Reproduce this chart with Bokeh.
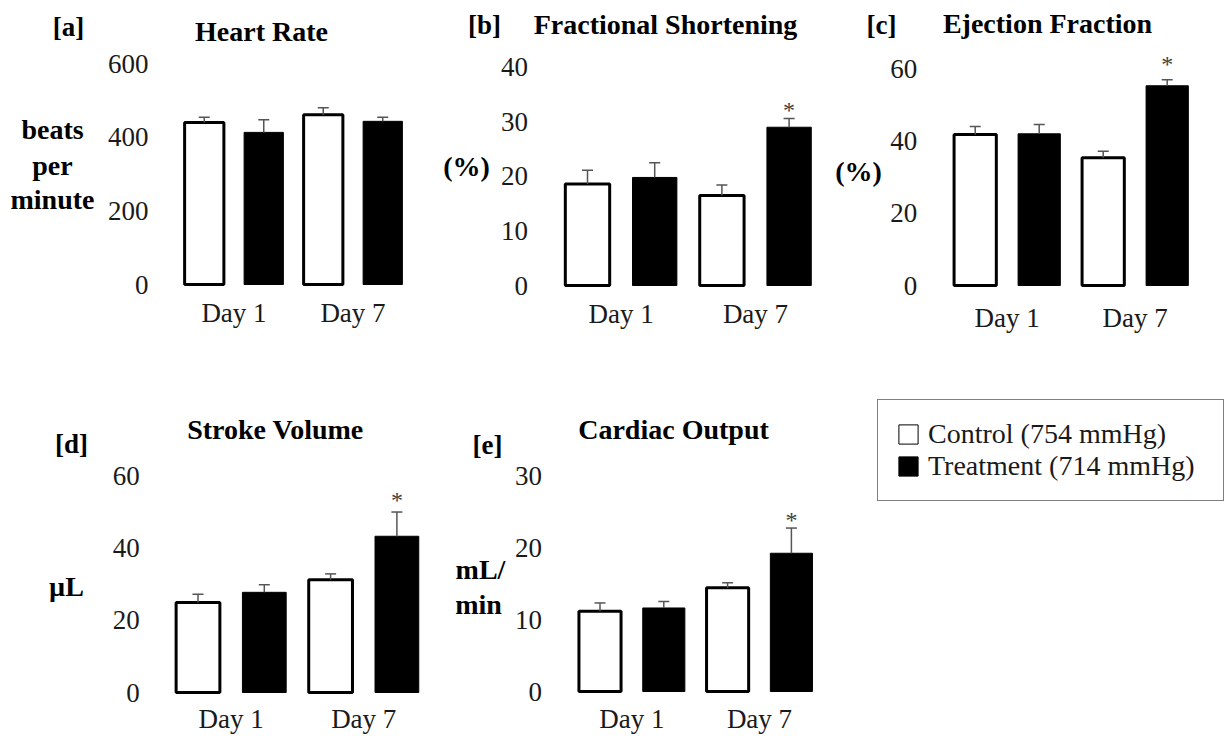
from bokeh.plotting import figure
from bokeh.layouts import column, row
from bokeh.models import (Range1d, FixedTicker, Whisker, TeeHead, ColumnDataSource,
                          Label, Legend, LegendItem)
from bokeh.core.properties import value
from bokeh.embed import file_html
from bokeh.resources import INLINE

# ---------------- data ----------------
days = ["Day 1", "Day 7"]
groups = ["Control (754 mmHg)", "Treatment (714 mmHg)"]

hr_control = [440, 461]
hr_control_err = [14, 19]
hr_treat = [413, 443]
hr_treat_err = [34, 11]
hr_sig = [False, False]

fs_control = [18.6, 16.5]
fs_control_err = [2.5, 1.9]
fs_treat = [19.8, 29.0]
fs_treat_err = [2.7, 1.6]
fs_sig = [False, True]

ef_control = [41.8, 35.4]
ef_control_err = [2.2, 1.8]
ef_treat = [42.0, 55.3]
ef_treat_err = [2.6, 1.7]
ef_sig = [False, True]

sv_control = [24.9, 31.2]
sv_control_err = [2.3, 1.6]
sv_treat = [27.7, 43.2]
sv_treat_err = [2.1, 6.7]
sv_sig = [False, True]

co_control = [11.15, 14.4]
co_control_err = [1.15, 0.7]
co_treat = [11.6, 19.2]
co_treat_err = [0.9, 3.5]
co_sig = [False, True]

hr_ticks = [0, 200, 400, 600]
fs_ticks = [0, 10, 20, 30, 40]
ef_ticks = [0, 20, 40, 60]
sv_ticks = [0, 20, 40, 60]
co_ticks = [0, 10, 20, 30]

FONT = "Liberation Serif"
TOP_H = 345
BOT_H = 391
LABEL_SHIFT = 9  # rendering correction for label baselines


def make_panel(g, ticks, ctrl, ctrl_err, trt, trt_err, sig, texts, star_gap,
               label_right, day_standoff):
    scale = (g["base"] - g["top_tick_px"]) / ticks[-1]
    dx = g["dx"]
    x_start = 1 - (g["c1"] - g["fig_x"]) / dx
    x_end = x_start + g["fig_w"] / dx
    y_start = -(g["fig_y"] + g["fig_h"] - g["base"]) / scale
    y_end = (g["base"] - g["fig_y"]) / scale
    p = figure(width=g["fig_w"], height=g["fig_h"],
               x_range=Range1d(x_start, x_end), y_range=Range1d(y_start, y_end),
               output_backend="svg", toolbar_location=None, min_border=0)
    p.outline_line_color = None
    p.grid.visible = False
    p.background_fill_color = "white"
    p.border_fill_color = "white"

    xc = [1 + 2 * i for i in range(len(days))]
    xt = [2 + 2 * i for i in range(len(days))]
    p.vbar(x=xc, top=ctrl, bottom=0, width=0.66, fill_color="white",
           line_color="black", line_width=3)
    p.vbar(x=xt, top=trt, bottom=0, width=0.66, fill_color="black",
           line_color="black", line_width=1)

    xs = xc + xt
    lows = list(ctrl) + list(trt)
    ups = [v + e for v, e in zip(ctrl, ctrl_err)] + [v + e for v, e in zip(trt, trt_err)]
    src = ColumnDataSource(dict(x=xs, lower=lows, upper=ups))
    w = Whisker(base="x", lower="lower", upper="upper", source=src,
                line_color="#555555", line_width=1.5,
                upper_head=TeeHead(size=11, line_color="#555555", line_width=1.5),
                lower_head=None, level="overlay")
    p.add_layout(w)

    sx = [x for x, s in zip(xt, sig) if s]
    sy = [v + e for v, e, s in zip(trt, trt_err, sig) if s]
    if sx:
        p.text(x=sx, y=sy, text=["*"] * len(sx), text_font=value(FONT),
               text_font_size="24px", text_color="#404040", text_align="center",
               text_baseline="middle", y_offset=-(star_gap - 3))

    # y axis drawn at the left edge of the bar area
    p.yaxis.fixed_location = 0.5
    p.yaxis.ticker = FixedTicker(ticks=ticks)
    p.yaxis.axis_line_color = None
    p.yaxis.major_tick_line_color = None
    p.yaxis.minor_tick_line_color = None
    p.yaxis.major_tick_out = 0
    p.yaxis.major_tick_in = 0
    p.yaxis.major_label_standoff = int(round(g["c1"] - dx / 2 - label_right))
    p.yaxis.major_label_text_font = FONT
    p.yaxis.major_label_text_font_size = "27px"
    p.yaxis.major_label_text_color = "#1a1a1a"

    # x axis drawn at the baseline
    p.xaxis.fixed_location = 0
    p.xaxis.ticker = FixedTicker(ticks=[1.5 + 2 * i for i in range(len(days))])
    p.xaxis.major_label_overrides = {1.5 + 2 * i: d for i, d in enumerate(days)}
    p.xaxis.axis_line_color = None
    p.xaxis.major_tick_line_color = None
    p.xaxis.minor_tick_line_color = None
    p.xaxis.major_tick_out = 0
    p.xaxis.major_tick_in = 0
    p.xaxis.major_label_standoff = day_standoff
    p.xaxis.major_label_text_font = FONT
    p.xaxis.major_label_text_font_size = "27px"
    p.xaxis.major_label_text_color = "#1a1a1a"

    for (txt, px, py, size) in texts:
        p.add_layout(Label(x=1 + (px - g["c1"]) / dx,
                           y=(g["base"] - (py - LABEL_SHIFT)) / scale,
                           text=txt, text_font=FONT, text_font_size=size,
                           text_font_style="bold", text_align="center",
                           text_baseline="alphabetic", text_color="black"))
    return p


pa = make_panel(dict(fig_x=0, fig_y=0, fig_w=420, fig_h=TOP_H, c1=203.75, dx=59.5,
                     base=284, top_tick_px=63),
                hr_ticks, hr_control, hr_control_err, hr_treat, hr_treat_err, hr_sig,
                [("[a]", 68, 35, "27px"), ("Heart Rate", 261, 40, "28px"),
                 ("beats", 52, 138, "28px"), ("per", 52, 174, "28px"),
                 ("minute", 52, 208, "28px")],
                12, 148, 13)

pb = make_panel(dict(fig_x=420, fig_y=0, fig_w=410, fig_h=TOP_H, c1=587, dx=67.2,
                     base=285, top_tick_px=66.7),
                fs_ticks, fs_control, fs_control_err, fs_treat, fs_treat_err, fs_sig,
                [("[b]", 484, 33, "27px"), ("Fractional Shortening", 665, 33, "28px"),
                 ("(%)", 466, 175, "28px")],
                12, 527, 13)

pc = make_panel(dict(fig_x=830, fig_y=0, fig_w=395, fig_h=TOP_H, c1=974.7, dx=64,
                     base=285, top_tick_px=68.3),
                ef_ticks, ef_control, ef_control_err, ef_treat, ef_treat_err, ef_sig,
                [("[c]", 881, 33, "27px"), ("Ejection Fraction", 1047, 32, "28px"),
                 ("(%)", 858, 180, "28px")],
                19, 917, 17)

pd_ = make_panel(dict(fig_x=0, fig_y=TOP_H, fig_w=440, fig_h=BOT_H, c1=197.5, dx=66.3,
                      base=692, top_tick_px=475),
                 sv_ticks, sv_control, sv_control_err, sv_treat, sv_treat_err, sv_sig,
                 [("[d]", 71, 452, "27px"), ("Stroke Volume", 275, 438, "28px"),
                  ("\u00b5L", 66, 595, "28px")],
                 15, 139, 11)

pe = make_panel(dict(fig_x=440, fig_y=TOP_H, fig_w=400, fig_h=BOT_H, c1=599.5, dx=63.8,
                     base=691, top_tick_px=475),
                co_ticks, co_control, co_control_err, co_treat, co_treat_err, co_sig,
                [("[e]", 487, 453, "27px"), ("Cardiac Output", 673, 438, "28px"),
                 ("mL/", 480, 578, "28px"), ("min", 478, 613, "28px")],
                11, 542, 12)

# legend panel (swatch renderers sit outside the visible range)
pl = figure(width=385, height=BOT_H, x_range=Range1d(0, 1), y_range=Range1d(0, 1),
            output_backend="svg", toolbar_location=None, min_border=0)
pl.axis.visible = False
pl.grid.visible = False
pl.outline_line_color = None
pl.border_fill_color = "white"
r1 = pl.vbar(x=[5], top=[1], bottom=[0.5], width=0.5, fill_color="white",
             line_color="black", line_width=1)
r2 = pl.vbar(x=[6], top=[1], bottom=[0.5], width=0.5, fill_color="black",
             line_color="black", line_width=1)
leg = Legend(items=[LegendItem(label=groups[0], renderers=[r1]),
                    LegendItem(label=groups[1], renderers=[r2])],
             location=(37, 235), margin=0, padding=18, spacing=0,
             glyph_width=24, glyph_height=24, label_standoff=8, label_width=277,
             label_text_font=FONT, label_text_font_size="28px", label_text_color="#1a1a1a",
             border_line_color="black", border_line_width=1.5,
             background_fill_color="white", background_fill_alpha=1)
pl.add_layout(leg)

layout = column(row(pa, pb, pc, spacing=0), row(pd_, pe, pl, spacing=0), spacing=0)

open("out.html", "w").write(file_html(layout, INLINE))
